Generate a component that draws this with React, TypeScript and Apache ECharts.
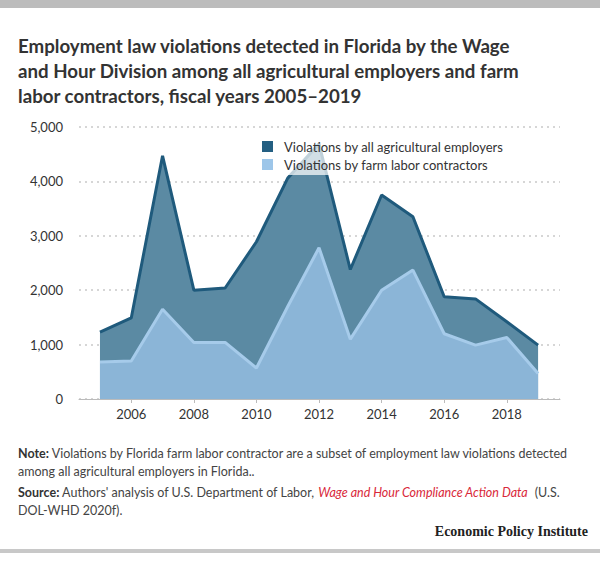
import React, { useEffect, useRef } from "react";
import * as echarts from "echarts";

const years = [2005, 2006, 2007, 2008, 2009, 2010, 2011, 2012, 2013, 2014, 2015, 2016, 2017, 2018, 2019];
const allEmployers = [1230, 1490, 4470, 2000, 2040, 2890, 4060, 4690, 2380, 3750, 3350, 1880, 1840, 1420, 990];
const farmContractors = [680, 700, 1650, 1040, 1040, 570, 1700, 2780, 1100, 2000, 2370, 1200, 990, 1130, 470];
const xLabelYears = [2006, 2008, 2010, 2012, 2014, 2016, 2018];
const seriesNames = ["Violations by all agricultural employers", "Violations by farm labor contractors"];

const titleLines = [
  "Employment law violations detected in Florida by the Wage",
  "and Hour Division among all agricultural employers and farm",
  "labor contractors, fiscal years 2005\u20132019",
];

const FONT = "Lato, 'Open Sans', sans-serif";

export default function App() {
  const ref = useRef<HTMLDivElement>(null);
  useEffect(() => {
    if (!ref.current) return;
    const chart = echarts.init(ref.current, undefined, { renderer: "svg" });
    const darkLine = "#1f5a7c";
    const darkFill = "#5b8aa3";
    const lightLine = "#a6cbea";
    const lightFill = "#8bb5d7";
    chart.setOption({
      animation: false,
      textStyle: { fontFamily: FONT },
      grid: { left: 79, right: 40, top: 127, bottom: 176 },
      legend: {
        orient: "vertical",
        left: 258,
        top: 136,
        padding: [4, 8, 4, 4],
        itemGap: 5,
        itemWidth: 11,
        itemHeight: 11,
        backgroundColor: "rgba(255,255,255,0.72)",
        textStyle: { fontSize: 13, color: "#333", fontFamily: FONT, padding: [0, 0, 0, 6] },
        data: [
          { name: seriesNames[0], icon: "rect", itemStyle: { color: "#245f82" } },
          { name: seriesNames[1], icon: "rect", itemStyle: { color: "#9dc6e9" } },
        ],
      },
      xAxis: {
        type: "value",
        min: 2004.33,
        max: 2019.7,
        axisLine: { show: true, lineStyle: { color: "#bbb", width: 1 } },
        axisTick: { show: true, customValues: xLabelYears, length: 4, lineStyle: { color: "#bbb" } },
        splitLine: { show: false },
        axisLabel: {
          customValues: xLabelYears,
          formatter: (v: number) => String(Math.round(v)),
          fontSize: 13,
          color: "#333",
          margin: 8,
          fontFamily: FONT,
        },
      },
      yAxis: {
        type: "value",
        min: 0,
        max: 5000,
        interval: 1000,
        axisLine: { show: false },
        axisTick: { show: false },
        splitLine: { show: true, lineStyle: { color: "#d6d6d6", type: [2, 4], width: 2 } },
        axisLabel: {
          fontSize: 13,
          color: "#333",
          margin: 16,
          fontFamily: FONT,
          formatter: (v: number) => v.toLocaleString("en-US"),
        },
      },
      series: [
        {
          name: seriesNames[0],
          type: "line",
          symbol: "none",
          data: years.map((y, i) => [y, allEmployers[i]]),
          lineStyle: { color: darkLine, width: 3 },
          itemStyle: { color: darkLine },
          areaStyle: { color: darkFill, opacity: 1 },
          z: 2,
        },
        {
          name: seriesNames[1],
          type: "line",
          symbol: "none",
          data: years.map((y, i) => [y, farmContractors[i]]),
          lineStyle: { color: lightLine, width: 3 },
          itemStyle: { color: lightLine },
          areaStyle: { color: lightFill, opacity: 1 },
          z: 3,
        },
      ],
      graphic: [
        { type: "rect", left: 0, top: 0, shape: { width: 600, height: 8 }, style: { fill: "#bcbcbc" } },
        { type: "rect", left: 0, top: 549, shape: { width: 600, height: 4 }, style: { fill: "#c8c8c8" } },
        ...titleLines.map((t, i) => ({
          type: "text",
          left: 18,
          top: 36 + i * 25,
          style: { text: t, fontSize: 18.7, fontWeight: "bold", fill: "#333", fontFamily: FONT },
        })),
        {
          type: "text",
          left: 18,
          top: 445,
          style: {
            text: "{b|Note:} Violations by Florida farm labor contractor are a subset of employment law violations detected\namong all agricultural employers in Florida..",
            fontSize: 12.5,
            lineHeight: 17.5,
            fill: "#444",
            fontFamily: FONT,
            rich: { b: { fontWeight: "bold", fontSize: 12.5, fill: "#333", fontFamily: FONT } },
          },
        },
        {
          type: "text",
          left: 18,
          top: 484,
          style: {
            text: "{b|Source:} Authors' analysis of U.S. Department of Labor, {r|Wage and Hour Compliance Action Data}  (U.S.\nDOL-WHD 2020f).",
            fontSize: 12.5,
            lineHeight: 17.5,
            fill: "#444",
            fontFamily: FONT,
            rich: {
              b: { fontWeight: "bold", fontSize: 12.5, fill: "#333", fontFamily: FONT },
              r: { fontStyle: "italic", fontSize: 12.5, fill: "#d9283a", fontFamily: FONT },
            },
          },
        },
        {
          type: "text",
          right: 12,
          top: 524,
          style: {
            text: "Economic Policy Institute",
            fontSize: 14,
            fontWeight: "bold",
            fill: "#222",
            fontFamily: "'Liberation Serif', 'DejaVu Serif', serif",
          },
        },
      ],
    });
    return () => chart.dispose();
  }, []);
  return (
    <div
      ref={ref}
      style={{ position: "absolute", left: 0, top: 0, width: 600, height: 575, background: "#fff" }}
    />
  );
}
